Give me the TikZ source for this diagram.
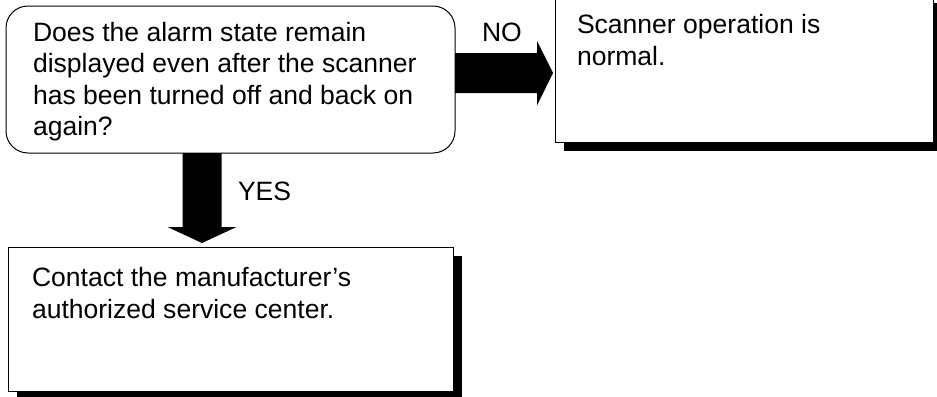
\documentclass[tikz,border=0pt]{standalone}
\usepackage{fontspec}
\setmainfont{Liberation Sans}
\usetikzlibrary{calc,shadows}
\begin{document}
\begin{tikzpicture}[x=0.75pt,y=-0.75pt,
  txt/.style={font=\fontsize{19.9}{23.6}\selectfont, inner sep=0pt, outer sep=0pt, anchor=base west, align=left},
  boxline/.style={draw=black, line width=0.75pt, fill=white, inner sep=0pt, outer sep=0pt, anchor=north west},
  shadowed/.style={drop shadow={shadow xshift=6.75pt, shadow yshift=-6.75pt, opacity=1, fill=black}},
  bigarrow/.style={fill=black}]
\useasboundingbox (0,0) rectangle (937,396);
\clip (0,0) rectangle (937,396);
% boxes
\node[boxline, rounded corners=16.5pt, minimum width=336.75pt, minimum height=110.25pt] (q) at (6,6) {};
\node[boxline, shadowed, minimum width=283.5pt, minimum height=111pt] (no) at (555,-6) {};
\node[boxline, shadowed, minimum width=333.75pt, minimum height=108pt] (ans) at (8,247) {};
% texts (base anchor = baseline of the last line)
\node[txt] (qt) at (33,135.5) {Does the alarm state remain\\displayed even after the scanner\\has been turned off and back on\\again?};
\node[txt] (nt) at (577,65) {Scanner operation is\\normal.};
\node[txt] (at) at (32,318) {Contact the manufacturer’s\\authorized service center.};
% arrows
\path (q.east) ++(0,-6.5) coordinate (nos);
\fill[bigarrow] (nos) ++(0,-20) -- ++(82,0) -- ++(0,-12) -- ($(nos -| no.west)+(-2,0)$) -- ++(-16,32.5) -- ++(0,-12.5) -- ++(-82,0) -- cycle;
\path (q.south) ++(-28.5,0) coordinate (yss);
\fill[bigarrow] (yss) ++(-19.5,0) -- ++(0,74) -- ++(-15,0) -- ($(yss |- ans.north)+(0,-4)$) -- ++(34.5,-16) -- ++(-15,0) -- ++(0,-74) -- cycle;
% labels
\node[txt] (nolab) at (482,41) {NO};
\node[txt] (yeslab) at (238,200) {YES};
\end{tikzpicture}
\end{document}
